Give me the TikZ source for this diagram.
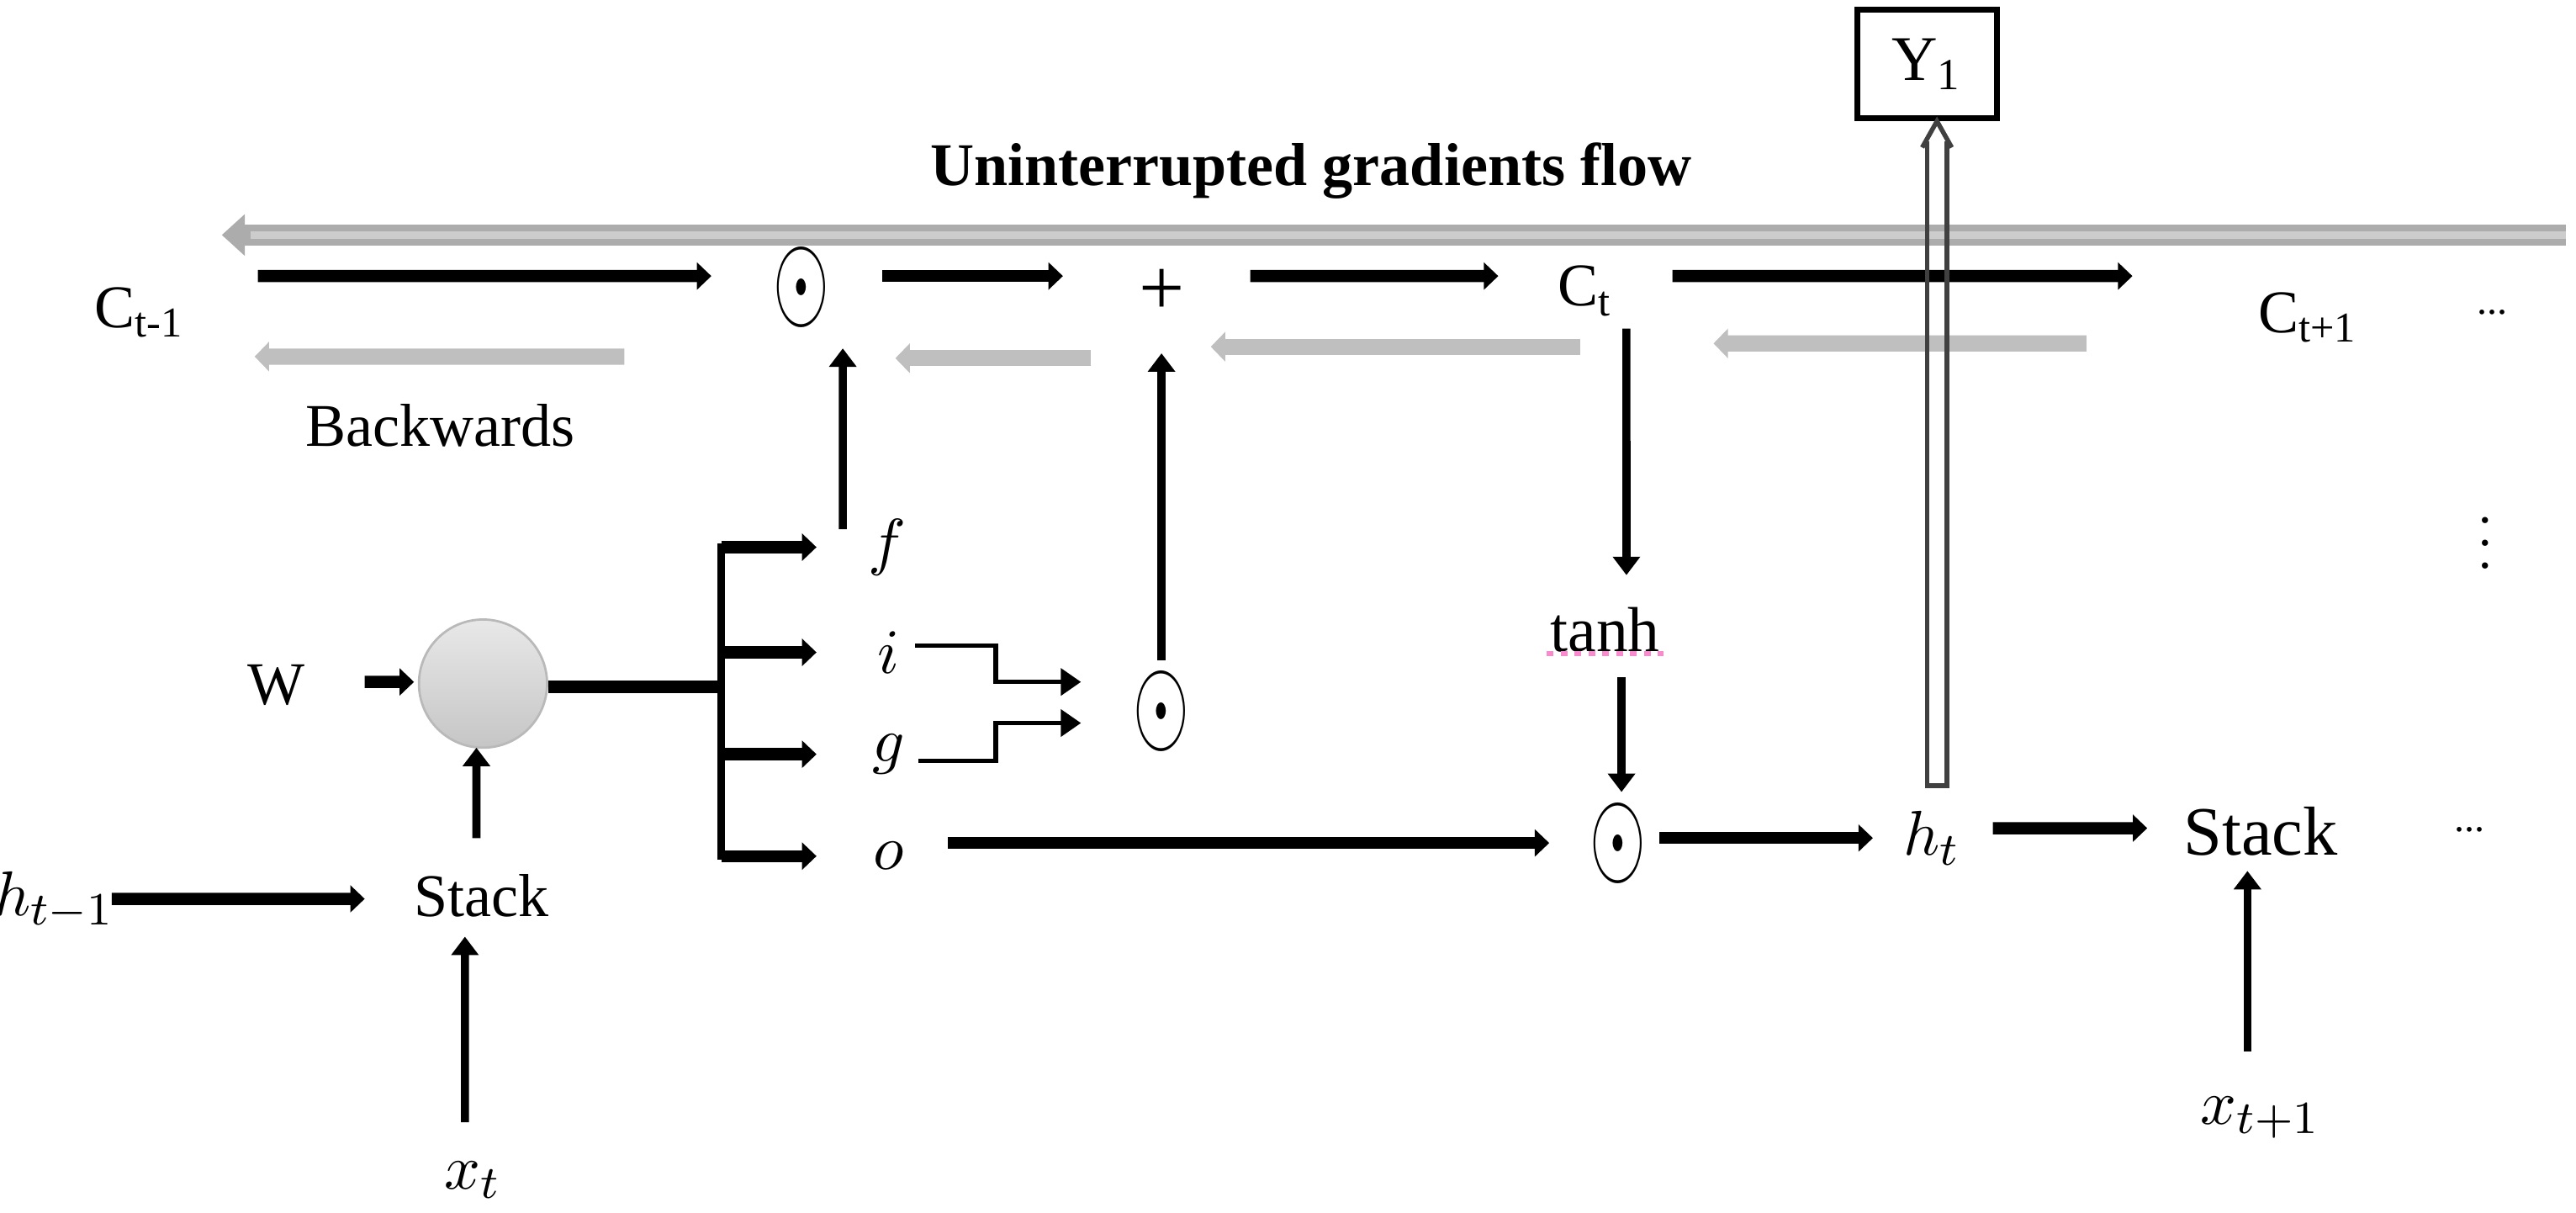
\documentclass[tikz,border=0pt]{standalone}
\usepackage{amsmath,amssymb}
\usepackage{fontspec}
\setmainfont{Liberation Serif}
\usepackage{tikz}
\usetikzlibrary{arrows.meta, positioning, calc}

\begin{document}
\begin{tikzpicture}[
        lbl/.style={inner sep=1pt, font=\fontsize{10.5}{12}\selectfont},
        op/.style={inner sep=1pt, font=\fontsize{10}{12}\selectfont},
        outbox/.style={rectangle, draw=black, line width=1pt, minimum width=0.85cm, minimum height=0.66cm, font=\fontsize{11}{12}\selectfont},
        cell/.style={circle, draw=gray!55, top color=gray!18, bottom color=gray!45, minimum size=0.78cm, inner sep=0pt},
        fwd/.style={-{Triangle[length=2.5pt,width=4.6pt]}, line width=2.1pt},
        varr/.style={-{Triangle[length=3.2pt,width=4.6pt]}, line width=1.4pt},
        gate/.style={-{Triangle[length=3.5pt,width=4.6pt]}, line width=0.8pt},
        back/.style={-{Triangle[length=2.5pt,width=5pt]}, line width=2.8pt, gray!50},
        gradflow/.style={-{Triangle[length=4pt,width=7pt]}, line width=3.6pt, gray!65},
        hollow/.style={draw=black!75, line width=0.8pt}
    ]
    \useasboundingbox (0,0) rectangle (15.68,7.38);

    % Cell state row
    \node[lbl] (Ctm1) at (0.85,5.48) {C\textsubscript{t-1}};
    \node[op] (odotF) at (4.88,5.63) {\scalebox{1.25}[2.1]{$\odot$}};
    \node[op, font=\fontsize{14}{16}\selectfont] (plus) at (7.07,5.60) {+};
    \node[lbl] (Ct) at (9.65,5.61) {C\textsubscript{t}};
    \node[lbl] (Ctp1) at (14.05,5.45) {C\textsubscript{t+1}};
    \node[lbl, font=\fontsize{7}{8}\selectfont] (dotsC) at (15.17,5.48) {...};
    \node[lbl, font=\fontsize{10.5}{12}\selectfont\bfseries] (title) at (7.98,6.34) {Uninterrupted gradients flow};
    \node[lbl] (bw) at (2.68,4.79) {Backwards};
    \node[outbox] (Y) at (11.73,6.99) {Y\textsubscript{1}};

    % Gates
    \node[lbl] (W) at (1.68,3.21) {W};
    \node[cell] (circ) at (2.94,3.22) {};
    \node[lbl, font=\fontsize{11}{12}\selectfont] (f) at (5.40,4.05) {$f$};
    \node[lbl, font=\fontsize{11}{12}\selectfont] (i) at (5.41,3.41) {$i$};
    \node[lbl, font=\fontsize{11}{12}\selectfont] (g) at (5.41,2.79) {$g$};
    \node[lbl, font=\fontsize{11}{12}\selectfont] (o) at (5.41,2.17) {$o$};
    \node[op] (odotI) at (7.07,3.05) {\scalebox{1.25}[2.1]{$\odot$}};
    \node[lbl, font=\fontsize{11}{12}\selectfont] (tanh) at (9.77,3.55) {tanh};
    \node[op] (odotO) at (9.85,2.25) {\scalebox{1.25}[2.1]{$\odot$}};
    \node[lbl, font=\fontsize{11}{12}\selectfont] (ht) at (11.76,2.28) {$h_t$};
    \node[lbl, font=\fontsize{12}{14}\selectfont] (stack2) at (13.76,2.32) {Stack};
    \node[lbl, font=\fontsize{7}{8}\selectfont] (dotsH) at (15.03,2.33) {...};
    \node[lbl, font=\fontsize{9}{10}\selectfont] (vdots) at (15.13,4.18) {$\vdots$};
    \node[lbl, font=\fontsize{11}{12}\selectfont] (xtp1) at (13.76,0.58) {$x_{t+1}$};
    \node[lbl] (stack1) at (2.93,1.93) {Stack};
    \node[lbl, font=\fontsize{11}{12}\selectfont] (htm1) at (0.33,1.90) {$h_{t-1}$};
    \node[lbl, font=\fontsize{11}{12}\selectfont] (xt) at (2.88,0.20) {$x_t$};
    \coordinate (bar) at (4.39,3.20);

    % Forward path of the cell state
    \draw[fwd] ($(Ctm1)+(0.72,0.22)$) -- ($(odotF)+(-0.55,0.07)$);
    \draw[fwd] ($(odotF)+(0.49,0.07)$) -- ($(plus)+(-0.60,0.10)$);
    \draw[fwd] ($(plus)+(0.54,0.10)$) -- ($(Ct)+(-0.53,0.09)$);
    \draw[fwd] ($(Ct)+(0.53,0.09)$) -- ($(Ctp1)+(-1.07,0.25)$);

    % Gradients going back
    \draw[gradflow] ($(dotsC)+(0.45,0.47)$) -- ($(Ctm1)+(0.50,0.47)$);
    \draw[gray!40, line width=1.4pt, shorten >=5pt] ($(dotsC)+(0.45,0.47)$) -- ($(Ctm1)+(0.50,0.47)$);
    \draw[back] ($(odotF)+(-1.08,-0.42)$) -- ($(Ctm1)+(0.70,-0.27)$);
    \draw[back] ($(plus)+(-0.43,-0.40)$) -- ($(odotF)+(0.57,-0.43)$);
    \draw[back] ($(Ct)+(-0.03,-0.34)$) -- ($(plus)+(0.30,-0.33)$);
    \draw[back] ($(Ctp1)+(-1.35,-0.16)$) -- ($(Ct)+(0.78,-0.32)$);

    % Gates into the cell state
    \draw[varr] ($(f)+(-0.27,0.11)$) -- ($(odotF)+(0.25,-0.37)$);
    \draw[varr] ($(odotI)+(0,0.31)$) -- ($(plus)+(0,-0.37)$);
    \draw[varr] ($(Ct)+(0.25,-0.23)$) -- ($(tanh)+(0.13,0.33)$);
    \draw[varr] ($(tanh)+(0.10,-0.29)$) -- ($(odotO)+(0.02,0.31)$);
    \draw[magenta!45, line width=0.9pt, dash pattern=on 1.2pt off 1.2pt] ($(tanh.south west)+(0.02,0.03)$) -- ($(tanh.south east)+(-0.02,0.03)$);

    % Input side
    \draw[fwd] ($(W)+(0.54,0.02)$) -- ($(circ)+(-0.42,0.01)$);
    \draw[varr] ($(stack1)+(-0.03,0.35)$) -- ($(circ)+(-0.04,-0.39)$);
    \draw[fwd] ($(htm1)+(0.35,0.01)$) -- ($(stack1)+(-0.71,-0.02)$);
    \draw[varr] ($(xt)+(-0.05,0.35)$) -- ($(stack1)+(-0.10,-0.25)$);
    \draw[line width=2.1pt] (circ.east |- bar) -- (bar);
    \draw[line width=1.3pt, line cap=rect] (bar |- f) -- (bar |- o);
    \draw[fwd] (bar |- f) -- ($(f)+(-0.43,0)$);
    \draw[fwd] (bar |- i) -- ($(i)+(-0.44,0)$);
    \draw[fwd] (bar |- g) -- ($(g)+(-0.44,0)$);
    \draw[fwd] (bar |- o) -- ($(o)+(-0.44,0)$);

    % i and g into the product
    \draw[gate] ($(i)+(0.16,0.04)$) -- ++(0.49,0) |- ($(odotI)+(-0.49,0.18)$);
    \draw[gate] ($(g)+(0.18,-0.04)$) -- ++(0.47,0) |- ($(odotI)+(-0.49,-0.07)$);

    % Output
    \draw[fwd] ($(o)+(0.36,0.08)$) -- ($(odotO)+(-0.42,0)$);
    \draw[fwd] ($(odotO)+(0.25,0.03)$) -- ($(ht)+(-0.36,0)$);
    \draw[fwd] ($(ht)+(0.37,0.06)$) -- ($(stack2)+(-0.69,0.02)$);
    \draw[varr] ($(xtp1)+(-0.08,0.40)$) -- ($(stack2)+(-0.08,-0.24)$);
    \draw[hollow] ($(Y.south)+(0,-0.12)$) -- ($(ht)+(-0.03,0.32)$) -- ($(ht)+(0.09,0.32)$) -- ($(Y.south)+(0.12,-0.12)$);
    \draw[hollow] ($(Y.south)+(-0.03,-0.16)$) -- ($(Y.south)+(0.06,0)$) -- ($(Y.south)+(0.15,-0.16)$);
\end{tikzpicture}
\end{document}
